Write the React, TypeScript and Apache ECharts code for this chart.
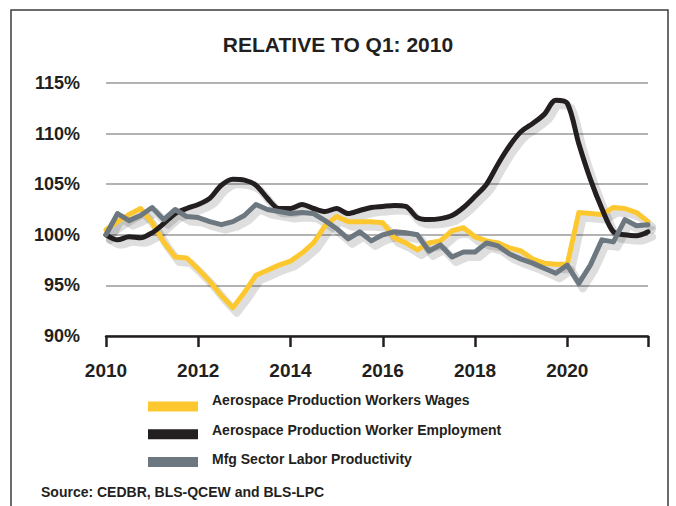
import React, { useEffect, useRef } from "react";
import * as echarts from "echarts";

const years = [2010, 2011, 2012, 2013, 2014, 2015, 2016, 2017, 2018, 2019, 2020, 2021];
const quarterNames = ["Q1", "Q2", "Q3", "Q4"];
const categories = years.flatMap((y) => quarterNames.map((q) => `${y} ${q}`));

const seriesNames = [
  "Aerospace Production Workers Wages",
  "Aerospace Production Worker Employment",
  "Mfg Sector Labor Productivity",
];

const wages = [
  100.5, 101.3, 102.0, 102.6, 101.2, 99.3, 97.8, 97.7,
  96.6, 95.4, 94.0, 92.8, 94.3, 96.0, 96.5, 97.0,
  97.4, 98.2, 99.2, 100.9, 101.8, 101.3, 101.3, 101.3,
  101.2, 99.7, 99.2, 98.5, 99.2, 99.4, 100.4, 100.7,
  99.8, 99.4, 99.2, 98.7, 98.4, 97.6, 97.2, 97.1,
  97.1, 102.2, 102.1, 102.0, 102.7, 102.6, 102.2, 101.3,
];

const employment = [
  100.0, 99.5, 99.8, 99.7, 100.2, 101.1, 102.1, 102.6,
  103.0, 103.6, 104.9, 105.5, 105.4, 104.9, 103.6, 102.6,
  102.6, 103.0, 102.6, 102.3, 102.6, 102.1, 102.4, 102.7,
  102.8, 102.9, 102.8, 101.7, 101.5, 101.6, 101.9, 102.7,
  103.8, 105.0, 107.0, 108.8, 110.2, 111.0, 111.9, 113.3,
  113.0, 109.0, 105.5, 102.6, 100.3, 100.0, 99.9, 100.3,
];

const productivity = [
  100.0, 102.1, 101.4, 101.9, 102.7, 101.5, 102.5, 101.8,
  101.7, 101.3, 101.0, 101.3, 101.9, 103.0, 102.5, 102.3,
  102.1, 102.2, 102.1, 101.4, 100.6, 99.6, 100.3, 99.4,
  100.0, 100.3, 100.2, 100.0, 98.4, 99.0, 97.8, 98.3,
  98.3, 99.2, 98.9, 98.1, 97.6, 97.2, 96.7, 96.2,
  97.0, 95.2, 97.0, 99.5, 99.3, 101.5, 100.9, 101.0,
];

const colors = ["#FDC82F", "#231F20", "#6C777F"];
const titleText = "RELATIVE TO Q1: 2010";
const sourceText = "Source: CEDBR, BLS-QCEW and BLS-LPC";
const FONT = "'Liberation Sans', Arial, sans-serif";
const DARK = "#231F20";

export default function App() {
  const ref = useRef<HTMLDivElement>(null);

  useEffect(() => {
    document.body.style.margin = "0";
    const chart = echarts.init(ref.current!, null, { renderer: "svg" });
    const dataSets = [wages, employment, productivity];
    const smooths = [false, 0.3, false];

    const legendGraphics: any[] = [];
    seriesNames.forEach((name, k) => {
      legendGraphics.push({
        type: "rect",
        silent: true,
        shape: { x: 148, y: 401.5 + k * 27.8, width: 50, height: 10 },
        style: { fill: colors[k] },
      });
      legendGraphics.push({
        type: "text",
        silent: true,
        x: 212,
        y: 400 + k * 29.5,
        style: {
          text: name,
          fill: DARK,
          fontSize: 14,
          fontWeight: "bold",
          fontFamily: FONT,
          verticalAlign: "middle",
          align: "left",
        },
      });
    });

    const mainSeries = seriesNames.map((name, k) => ({
      name,
      type: "line",
      xAxisIndex: 0,
      yAxisIndex: 0,
      data: dataSets[k],
      showSymbol: false,
      symbol: "none",
      smooth: smooths[k],
      color: colors[k],
      itemStyle: { color: colors[k] },
      lineStyle: { width: 5, color: colors[k], cap: "round", join: "round" },
      z: 5 + k,
    }));

    // soft drop shadow: same data drawn on an identical grid shifted a few pixels
    const shadowSeries = seriesNames.map((name, k) => ({
      name: name + " shadow",
      type: "line",
      xAxisIndex: 1,
      yAxisIndex: 1,
      data: dataSets[k],
      showSymbol: false,
      symbol: "none",
      smooth: smooths[k],
      silent: true,
      lineStyle: { width: 8, color: "rgba(0,0,0,0.13)", cap: "round", join: "round" },
      z: 1,
    }));

    const hiddenAxis = { show: false };

    chart.setOption({
      animation: false,
      backgroundColor: "#ffffff",
      textStyle: { fontFamily: FONT },
      title: {
        text: titleText,
        left: "center",
        top: 29,
        textStyle: { fontSize: 21, fontWeight: "bold", color: DARK, fontFamily: FONT },
      },
      grid: [
        { left: 106, right: 28, top: 83, bottom: 170 },
        { left: 110, right: 24, top: 88, bottom: 165 },
      ],
      xAxis: [
        {
          type: "category",
          gridIndex: 0,
          data: categories,
          boundaryGap: false,
          z: 10,
          axisLine: { lineStyle: { color: DARK, width: 2.5 } },
          axisTick: {
            show: true,
            interval: (i: number) => i % 8 === 0 || i === categories.length - 1,
            length: 11,
            lineStyle: { color: DARK, width: 2.5 },
          },
          axisLabel: {
            interval: (i: number) => i % 8 === 0 && i < categories.length - 1,
            formatter: (v: string) => v.slice(0, 4),
            fontSize: 19,
            fontWeight: "bold",
            color: DARK,
            margin: 25,
            fontFamily: FONT,
          },
          splitLine: { show: false },
        },
        {
          type: "category",
          gridIndex: 1,
          data: categories,
          boundaryGap: false,
          ...hiddenAxis,
        },
      ],
      yAxis: [
        {
          type: "value",
          gridIndex: 0,
          min: 90,
          max: 115,
          interval: 5,
          axisLine: { show: false },
          axisTick: { show: false },
          axisLabel: {
            formatter: "{value}%",
            fontSize: 18,
            fontWeight: "bold",
            color: DARK,
            margin: 26,
            fontFamily: FONT,
          },
          splitLine: { lineStyle: { color: "#9a9a9a", width: 1.5 } },
        },
        {
          type: "value",
          gridIndex: 1,
          min: 90,
          max: 115,
          interval: 5,
          ...hiddenAxis,
          splitLine: { show: false },
        },
      ],
      series: [...shadowSeries, ...mainSeries],
      graphic: [
        {
          type: "rect",
          silent: true,
          z: -10,
          shape: { x: 11, y: 10, width: 657, height: 520 },
          style: { fill: "none", stroke: "#3c3c3c", lineWidth: 1.5 },
        },
        ...legendGraphics,
        {
          type: "text",
          silent: true,
          x: 41,
          y: 492,
          style: {
            text: sourceText,
            fill: DARK,
            fontSize: 14,
            fontWeight: "bold",
            fontFamily: FONT,
            verticalAlign: "middle",
            align: "left",
          },
        },
      ],
    });
    return () => chart.dispose();
  }, []);

  return (
    <div
      ref={ref}
      style={{ position: "absolute", left: 0, top: 0, width: 676, height: 506 }}
    />
  );
}
